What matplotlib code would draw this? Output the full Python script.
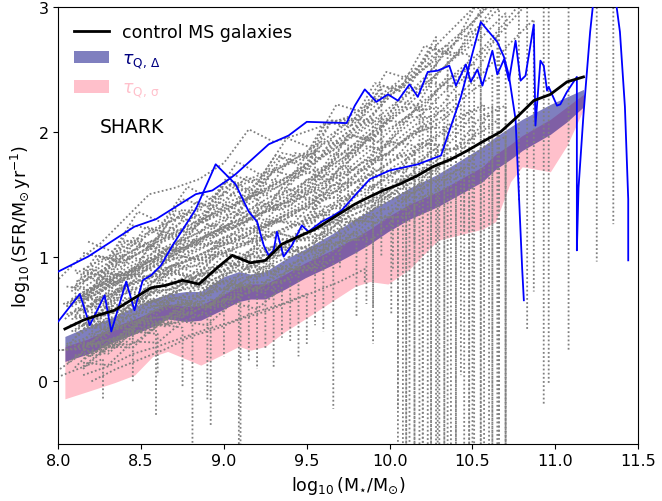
import numpy as np
import matplotlib
matplotlib.use('Agg')
import matplotlib.pyplot as plt

# control main-sequence median
ms_x = [8.04, 8.15, 8.24, 8.34, 8.45, 8.56, 8.65, 8.75, 8.85, 8.95, 9.05, 9.16, 9.25, 9.35, 9.45,
        9.55, 9.67, 9.79, 9.88, 9.96, 10.06, 10.17, 10.26, 10.37, 10.47, 10.56, 10.67, 10.77,
        10.87, 10.97, 11.07, 11.17]
ms_y = [0.42, 0.49, 0.53, 0.57, 0.66, 0.75, 0.77, 0.81, 0.78, 0.90, 1.01, 0.95, 0.97, 1.10, 1.16,
        1.22, 1.32, 1.42, 1.48, 1.53, 1.58, 1.65, 1.72, 1.78, 1.85, 1.92, 2.00, 2.12,
        2.25, 2.30, 2.40, 2.44]

# quenching-timescale bands
band_x = [8.04, 8.18, 8.34, 8.46, 8.57, 8.66, 8.77, 8.86, 9.00, 9.09, 9.16, 9.25, 9.37, 9.49,
          9.65, 9.79, 9.88, 9.99, 10.12, 10.29, 10.56, 10.64, 10.73, 10.80, 10.97, 11.07, 11.17]
delta_lo = [0.16, 0.22, 0.32, 0.38, 0.44, 0.50, 0.48, 0.49, 0.58, 0.64, 0.66, 0.66, 0.74, 0.83,
            0.93, 1.03, 1.10, 1.20, 1.30, 1.40, 1.60, 1.70, 1.78, 1.85, 1.98, 2.08, 2.20]
delta_hi = [0.36, 0.44, 0.52, 0.60, 0.66, 0.70, 0.72, 0.72, 0.84, 0.88, 0.86, 0.88, 0.98, 1.06,
            1.18, 1.30, 1.37, 1.45, 1.55, 1.66, 1.88, 1.96, 2.04, 2.10, 2.22, 2.28, 2.34]
sigma_lo = [-0.14, -0.08, -0.01, 0.05, 0.20, 0.24, 0.18, 0.13, 0.22, 0.28, 0.25, 0.28, 0.40, 0.50,
            0.64, 0.76, 0.80, 0.78, 0.90, 1.13, 1.22, 1.28, 1.60, 1.72, 1.68, 1.89, 2.18]
sigma_hi = [0.28, 0.34, 0.44, 0.50, 0.56, 0.62, 0.60, 0.61, 0.70, 0.76, 0.78, 0.78, 0.86, 0.95,
            1.05, 1.15, 1.22, 1.32, 1.42, 1.52, 1.72, 1.82, 1.90, 1.97, 2.10, 2.20, 2.30]

# two highlighted galaxies
gal1_x = [8.00, 8.18, 8.46, 8.59, 8.83, 8.93, 9.03, 9.07, 9.27, 9.39, 9.50, 9.74, 9.79, 9.85,
          9.92, 9.99, 10.05, 10.12, 10.17, 10.23, 10.29, 10.36, 10.40, 10.46, 10.49, 10.53,
          10.56, 10.62, 10.65, 10.69, 10.72, 10.76, 10.79, 10.82, 10.87, 10.88, 10.91, 10.93,
          10.95, 10.96, 11.01, 11.03, 11.07, 11.13, 11.13, 11.14, 11.17, 11.21, 11.25, 11.31,
          11.37, 11.39, 11.42, 11.44, 11.44]
gal1_y = [0.88, 1.00, 1.24, 1.30, 1.50, 1.53, 1.62, 1.66, 1.90, 1.97, 2.08, 2.07, 2.21, 2.34,
          2.24, 2.30, 2.25, 2.38, 2.28, 2.48, 2.49, 2.53, 2.37, 2.54, 2.40, 2.50,
          2.37, 2.65, 2.46, 2.58, 2.41, 2.73, 2.41, 2.45, 2.86, 2.05, 2.57, 2.53,
          2.33, 2.36, 2.21, 2.22, 2.32, 2.44, 1.05, 1.55, 2.14, 2.80, 3.30, 3.60,
          3.00, 2.80, 2.20, 1.46, 0.97]
gal2_x = [8.00, 8.13, 8.19, 8.28, 8.32, 8.41, 8.46, 8.51, 8.56, 8.62, 8.69, 8.83, 8.91, 8.95,
          9.07, 9.15, 9.20, 9.24, 9.27, 9.30, 9.32, 9.36, 9.41, 9.47, 9.51, 9.59, 9.65, 9.71,
          9.79, 9.88, 10.00, 10.17, 10.31, 10.43, 10.55, 10.65, 10.69, 10.72, 10.76, 10.78,
          10.80, 10.81]
gal2_y = [0.48, 0.70, 0.45, 0.69, 0.40, 0.80, 0.57, 0.81, 0.85, 0.93, 1.09, 1.38, 1.62, 1.74,
          1.58, 1.36, 1.28, 1.09, 1.01, 1.05, 1.20, 1.00, 1.09, 1.25, 1.20, 1.28, 1.32, 1.37,
          1.49, 1.62, 1.69, 1.74, 1.81, 2.28, 2.88, 2.72, 2.60, 2.45, 2.10, 1.50,
          0.90, 0.65]

# individual SHARK tracks: (final log M*, log SFR sampled every STEP dex, SFR after quenching)
STEP = 0.15
tracks = [
    (8.27, [0.02, 0.10, 0.18], -0.14),
    (8.59, [0.08, 0.22, 0.26, 0.40, 0.42], -0.28),
    (8.81, [0.15, 0.30, 0.35, 0.50, 0.52, 0.60], -0.60),
    (8.90, [0.12, 0.28, 0.30, 0.45, 0.48, 0.55], -0.16),
    (8.92, [0.25, 0.28, 0.42, 0.48, 0.60, 0.62, 0.72], -0.35),
    (9.10, [0.30, 0.36, 0.50, 0.55, 0.66, 0.68, 0.78, 0.82], -0.60),
    (9.09, [0.20, 0.35, 0.40, 0.50, 0.55, 0.62, 0.70], -0.60),
    (9.40, [0.22, 0.33, 0.40, 0.50, 0.55, 0.64, 0.68, 0.78, 0.82], 0.32),
    (9.66, [0.18, 0.32, 0.38, 0.48, 0.52, 0.62, 0.66, 0.76, 0.80, 0.90, 0.98], -0.22),
    (9.80, [0.28, 0.40, 0.46, 0.58, 0.62, 0.72, 0.75, 0.86, 0.90, 1.00, 1.08, 1.20], 0.52),
    (9.86, [0.30, 0.36, 0.50, 0.52, 0.63, 0.66, 0.78, 0.80, 0.90, 0.94, 1.10, 1.18], 0.62),
    (10.01, [0.36, 0.42, 0.55, 0.58, 0.68, 0.72, 0.83, 0.85, 0.95, 1.00, 1.12, 1.22, 1.36], 0.53),
    (10.05, [0.40, 0.55, 0.58, 0.72, 0.74, 0.86, 0.88, 1.00, 1.02, 1.13, 1.18, 1.32, 1.40, 1.55], -0.22),
    (10.08, [0.58, 0.64, 0.78, 0.84, 0.90, 1.00, 1.04, 1.14, 1.18, 1.28, 1.36, 1.50, 1.58, 1.72], -0.70),
    (10.12, [0.45, 0.58, 0.62, 0.76, 0.80, 0.90, 0.95, 1.05, 1.10, 1.20, 1.28, 1.42, 1.50, 1.66], -0.70),
    (10.15, [0.60, 0.75, 0.80, 0.95, 0.98, 1.08, 1.12, 1.22, 1.24, 1.36, 1.40, 1.55, 1.62, 1.76, 1.84], -0.70),
    (10.20, [0.35, 0.48, 0.55, 0.62, 0.72, 0.76, 0.86, 0.90, 1.00, 1.05, 1.16, 1.24, 1.38, 1.48, 1.60], -0.70),
    (10.23, [0.70, 0.80, 0.92, 1.00, 1.10, 1.16, 1.26, 1.32, 1.42, 1.48, 1.60, 1.70, 1.86, 1.92, 2.05], -0.70),
    (10.29, [0.50, 0.66, 0.70, 0.84, 0.86, 0.98, 1.00, 1.10, 1.14, 1.24, 1.28, 1.44, 1.50, 1.66, 1.72, 1.88], -0.70),
    (10.33, [0.65, 0.72, 0.85, 0.92, 1.04, 1.10, 1.22, 1.28, 1.40, 1.45, 1.58, 1.68, 1.85, 1.92, 2.08, 2.18], -0.70),
    (10.37, [0.42, 0.58, 0.64, 0.75, 0.80, 0.90, 0.94, 1.06, 1.08, 1.18, 1.25, 1.38, 1.45, 1.60, 1.68, 1.80], -0.70),
    (10.43, [0.62, 0.70, 0.85, 0.90, 1.04, 1.08, 1.20, 1.24, 1.35, 1.40, 1.52, 1.58, 1.75, 1.82, 1.98, 2.05, 2.22], 0.05),
    (10.48, [0.40, 0.52, 0.56, 0.70, 0.74, 0.84, 0.88, 0.98, 1.02, 1.12, 1.18, 1.30, 1.40, 1.52, 1.62, 1.75, 1.86], -0.70),
    (10.51, [0.80, 0.92, 1.02, 1.12, 1.20, 1.30, 1.38, 1.48, 1.55, 1.65, 1.72, 1.88, 2.00, 2.15, 2.25, 2.42, 2.55], -0.70),
    (10.57, [0.65, 0.78, 0.84, 0.96, 1.00, 1.10, 1.15, 1.25, 1.30, 1.42, 1.48, 1.62, 1.72, 1.86, 1.96, 2.12, 2.22], -0.50),
    (10.62, [0.55, 0.60, 0.75, 0.80, 0.92, 0.98, 1.10, 1.15, 1.28, 1.35, 1.48, 1.58, 1.75, 1.85, 2.02, 2.12, 2.30, 2.45], -0.70),
    (10.66, [0.38, 0.52, 0.58, 0.70, 0.75, 0.86, 0.90, 1.02, 1.06, 1.16, 1.24, 1.36, 1.46, 1.60, 1.70, 1.84, 1.96, 2.10], -0.45),
    (10.70, [0.80, 0.92, 1.00, 1.12, 1.20, 1.30, 1.40, 1.52, 1.60, 1.74, 1.84, 2.00, 2.14, 2.30, 2.42, 2.60, 2.75, 2.95], -0.55),
    (10.40, [0.55, 0.62, 0.74, 0.82, 0.90, 0.96, 1.06, 1.12, 1.22, 1.30, 1.42, 1.54, 1.66, 1.78, 1.92, 2.06], 1.55),
    (10.55, [0.90, 1.00, 1.12, 1.24, 1.32, 1.42, 1.55, 1.62, 1.72, 1.84, 1.98, 2.12, 2.28, 2.40, 2.55, 2.72, 2.85], 1.80),
    (10.45, [0.38, 0.45, 0.58, 0.62, 0.72, 0.78, 0.85, 0.92, 1.00, 1.06, 1.18, 1.30, 1.40, 1.52, 1.62, 1.72], 1.20),
    (10.25, [0.80, 0.92, 1.05, 1.15, 1.28, 1.36, 1.50, 1.58, 1.72, 1.80, 1.95, 2.08, 2.25, 2.38, 2.55], 1.40),
    (9.95, [0.75, 0.88, 1.00, 1.12, 1.22, 1.32, 1.42, 1.50, 1.62, 1.70, 1.85, 1.98, 2.12], 1.00),
    (9.70, [0.60, 0.70, 0.80, 0.88, 0.95, 1.04, 1.12, 1.20, 1.28, 1.38, 1.50, 1.65], 0.90),
    (10.10, [0.42, 0.48, 0.60, 0.65, 0.74, 0.80, 0.88, 0.94, 1.02, 1.08, 1.20, 1.30, 1.42, 1.58], -0.70),
    (10.18, [0.66, 0.78, 0.92, 1.00, 1.10, 1.18, 1.28, 1.36, 1.48, 1.55, 1.68, 1.80, 1.95, 2.05, 2.20], -0.70),
    (10.78, [0.75, 0.85, 0.96, 1.05, 1.15, 1.25, 1.34, 1.45, 1.55, 1.68, 1.80, 1.98, 2.12, 2.32, 2.48, 2.68, 2.85, 3.05, 3.20], 1.44),
    (10.83, [0.68, 0.80, 0.88, 0.98, 1.05, 1.15, 1.22, 1.32, 1.40, 1.52, 1.62, 1.80, 1.92, 2.10, 2.25, 2.45, 2.62, 2.85, 3.10], 0.42),
    (10.87, [0.60, 0.72, 0.80, 0.90, 0.96, 1.06, 1.12, 1.22, 1.30, 1.42, 1.52, 1.68, 1.80, 1.98, 2.12, 2.30, 2.48, 2.70, 2.90], 0.72),
    (10.93, [0.62, 0.70, 0.82, 0.92, 1.02, 1.12, 1.22, 1.32, 1.42, 1.52, 1.66, 1.80, 1.98, 2.14, 2.34, 2.52, 2.72, 2.95, 3.15, 3.30], -0.18),
    (10.96, [0.55, 0.66, 0.76, 0.85, 0.94, 1.02, 1.10, 1.20, 1.28, 1.40, 1.52, 1.68, 1.82, 2.00, 2.16, 2.36, 2.56, 2.78, 3.00, 3.20], -0.03),
    (11.08, [0.60, 0.70, 0.80, 0.90, 1.00, 1.10, 1.18, 1.28, 1.38, 1.50, 1.62, 1.78, 1.94, 2.12, 2.30, 2.52, 2.75, 3.00, 3.20, 3.35, 3.40], 0.24),
    (11.25, [0.66, 0.76, 0.86, 0.96, 1.06, 1.14, 1.24, 1.34, 1.46, 1.56, 1.70, 1.86, 2.04, 2.22, 2.42, 2.65, 2.88, 3.10, 3.30, 3.40, 3.45, 3.40], 0.96),
    (11.35, [0.62, 0.72, 0.84, 0.94, 1.06, 1.16, 1.28, 1.38, 1.50, 1.62, 1.76, 1.92, 2.08, 2.28, 2.48, 2.72, 2.92, 3.12, 3.30, 3.45, 3.50, 3.50, 3.45], 1.26),
    (10.35, [0.75, 0.95, 1.10, 1.30, 1.50, 1.55, 1.62, 1.75, 2.02, 1.92, 1.98, 2.05, 2.12, 2.25, 2.40, 2.55, 2.70], -0.70),
    (9.90, [0.70, 0.95, 1.05, 1.18, 1.30, 1.40, 1.55, 1.62, 1.70, 1.80, 1.85, 2.00, 2.10], 0.60),
    (9.20, [0.55, 0.72, 0.88, 1.00, 1.15, 1.32, 1.45, 1.52], 0.10),
    (9.50, [0.05, 0.12, 0.22, 0.28, 0.35, 0.42, 0.48, 0.56, 0.62, 0.70], 0.30),
    (9.85, [0.00, 0.10, 0.18, 0.26, 0.36, 0.42, 0.50, 0.56, 0.64, 0.72, 0.80, 0.90], 0.78),
    (10.40, [0.68, 0.63, 0.92, 0.88, 1.14, 1.09, 1.36, 1.28, 1.55, 1.51, 1.82, 1.83, 2.10, 2.07, 2.39, 2.36], -0.70),
    (10.55, [0.90, 0.82, 1.15, 1.07, 1.38, 1.29, 1.61, 1.49, 1.80, 1.73, 2.09, 2.05, 2.37, 2.31, 2.67, 2.60, 2.98], -0.70),
    (10.25, [0.63, 0.87, 0.84, 1.08, 1.03, 1.26, 1.22, 1.42, 1.37, 1.62, 1.62, 1.90, 1.86, 2.12, 2.12], -0.70),
    (10.10, [0.61, 0.59, 0.81, 0.80, 1.00, 0.97, 1.18, 1.13, 1.33, 1.32, 1.57, 1.60, 1.82, 1.81], -0.70),
    (9.95, [1.03, 0.98, 1.25, 1.21, 1.46, 1.40, 1.66, 1.58, 1.83, 1.79, 2.09, 2.09, 2.35], 1.20),
    (10.62, [0.45, 0.45, 0.67, 0.66, 0.87, 0.83, 1.04, 0.99, 1.20, 1.16, 1.40, 1.41, 1.66, 1.64, 1.90, 1.89, 2.15, 2.20], -0.70),
    (10.66, [0.87, 0.80, 1.13, 1.06, 1.37, 1.29, 1.60, 1.51, 1.81, 1.73, 2.08, 2.04, 2.39, 2.33, 2.69, 2.63, 2.99, 3.00], -0.70),
    (10.20, [0.51, 0.84, 0.76, 1.09, 0.99, 1.29, 1.19, 1.49, 1.39, 1.70, 1.63, 1.98, 1.93, 2.25, 2.20], -0.70),
    (10.33, [0.50, 0.52, 0.73, 0.74, 0.93, 0.92, 1.11, 1.10, 1.28, 1.28, 1.49, 1.54, 1.77, 1.78, 2.01, 2.04], -0.70),
    (10.48, [0.72, 1.01, 0.97, 1.24, 1.18, 1.44, 1.38, 1.64, 1.57, 1.83, 1.79, 2.11, 2.09, 2.37, 2.34, 2.64, 2.62], -0.70),
    (10.70, [0.45, 0.44, 0.64, 0.65, 0.83, 0.81, 1.00, 0.96, 1.14, 1.15, 1.38, 1.42, 1.61, 1.62, 1.85, 1.87, 2.12, 2.21], -0.70),
    (9.55, [0.76, 0.73, 1.01, 0.98, 1.24, 1.18, 1.44, 1.37, 1.63, 1.57, 1.85], 0.90),
    (9.30, [0.32, 0.30, 0.51, 0.48, 0.67, 0.62, 0.81, 0.76, 0.94], 0.10),
    (9.60, [0.58, 0.54, 0.77, 0.72, 0.93, 0.86, 1.07, 1.00, 1.20, 1.14, 1.38], 0.40),
    (10.02, [0.29, 0.29, 0.48, 0.48, 0.65, 0.62, 0.79, 0.75, 0.92, 0.89, 1.09, 1.11, 1.32, 1.31], 0.90),
    (10.28, [1.12, 1.04, 1.36, 1.27, 1.56, 1.46, 1.76, 1.65, 1.95, 1.87, 2.22, 2.16, 2.48, 2.42, 2.76], -0.70),
    (10.45, [0.62, 0.85, 0.86, 1.07, 1.04, 1.26, 1.22, 1.43, 1.40, 1.64, 1.67, 1.93, 1.92, 2.17, 2.19, 2.44], -0.70),
    (10.60, [0.43, 0.43, 0.64, 0.63, 0.81, 0.79, 0.96, 0.95, 1.13, 1.13, 1.37, 1.40, 1.60, 1.62, 1.85, 1.87, 2.14], -0.70),
    (10.15, [0.90, 0.85, 1.09, 1.02, 1.23, 1.16, 1.36, 1.29, 1.50, 1.45, 1.72, 1.69, 1.92, 1.89], 1.10),
    (9.75, [0.89, 0.85, 1.13, 1.08, 1.33, 1.26, 1.52, 1.45, 1.69, 1.63, 1.92, 1.90], 1.30),
    (8.75, [0.10, 0.28, 0.27, 0.46, 0.43], -0.05),
    (9.00, [0.21, 0.21, 0.40, 0.39, 0.56, 0.53, 0.70], 0.20),
    (9.25, [0.28, 0.27, 0.47, 0.44, 0.61, 0.58, 0.74, 0.71], 0.25),
    (9.55, [0.30, 0.29, 0.49, 0.46, 0.63, 0.60, 0.76, 0.73, 0.90, 0.89], 0.45),
    (9.35, [0.15, 0.13, 0.32, 0.31, 0.48, 0.45, 0.63, 0.58, 0.75], 0.35),
    (8.60, [0.25, 0.22, 0.40, 0.38], 0.05),
    (10.40, [0.30, 0.28, 0.47, 0.46, 0.63, 0.60, 0.78, 0.73, 0.90, 0.89, 1.11, 1.14, 1.32, 1.32, 1.54, 1.54], -0.70),
    (10.55, [0.25, 0.43, 0.42, 0.61, 0.58, 0.75, 0.73, 0.88, 0.85, 1.04, 1.06, 1.29, 1.27, 1.47, 1.49, 1.69, 1.73], -0.70),
    (10.25, [0.46, 0.42, 0.63, 0.60, 0.79, 0.74, 0.94, 0.87, 1.06, 1.03, 1.27, 1.28, 1.48, 1.46, 1.70], -0.70),
    (10.05, [0.11, 0.31, 0.30, 0.49, 0.46, 0.63, 0.60, 0.77, 0.73, 0.91, 0.91, 1.13, 1.14, 1.33], -0.70),
    (9.90, [0.25, 0.47, 0.44, 0.65, 0.60, 0.79, 0.74, 0.93, 0.87, 1.07, 1.05, 1.29, 1.28], 0.30),
    (10.70, [0.25, 0.24, 0.44, 0.44, 0.62, 0.59, 0.78, 0.74, 0.92, 0.92, 1.15, 1.19, 1.38, 1.38, 1.61, 1.62, 1.87, 1.96], -0.70),
    (9.45, [0.47, 0.45, 0.66, 0.63, 0.82, 0.77, 0.96, 0.91, 1.09, 1.05], 0.20),
    (9.15, [0.52, 0.50, 0.71, 0.68, 0.87, 0.82, 1.01, 0.96], 0.15),
    (8.45, [0.25, 0.26, 0.43, 0.42], 0.00),
    (10.15, [0.54, 0.52, 0.73, 0.71, 0.90, 0.85, 1.04, 0.98, 1.17, 1.12, 1.33, 1.34, 1.57, 1.54, 1.77], -0.70),
    (10.30, [0.28, 0.48, 0.47, 0.67, 0.64, 0.81, 0.78, 0.94, 0.91, 1.08, 1.07, 1.30, 1.31, 1.50, 1.51, 1.72], -0.70),
    (10.50, [0.67, 0.65, 0.86, 0.83, 1.02, 0.97, 1.16, 1.11, 1.29, 1.25, 1.47, 1.47, 1.70, 1.67, 1.91, 1.89, 2.13], -0.70),
    (10.65, [0.73, 1.00, 0.95, 1.21, 1.14, 1.38, 1.31, 1.55, 1.47, 1.72, 1.68, 1.97, 1.94, 2.20, 2.18, 2.45, 2.43, 2.77], -0.70),
]

fig, ax = plt.subplots(figsize=(6.62, 5.02), dpi=100)
fig.subplots_adjust(left=0.088, right=0.964, top=0.984, bottom=0.114)

ax.fill_between(band_x, sigma_lo, sigma_hi, color='pink', lw=0, zorder=1, label=r'$\tau_{\rm Q,\,\sigma}$')
ax.fill_between(band_x, delta_lo, delta_hi, color='navy', alpha=0.5, lw=0, zorder=1.5,
                label=r'$\tau_{\rm Q,\,\Delta}$')

for x_end, ys, drop in tracks:
    n = len(ys)
    xs = [x_end - STEP * (n - 1 - i) for i in range(n)]
    yy = list(ys)
    if drop is not None:
        xs.append(x_end)
        yy.append(drop)
    ax.plot(xs, yy, color='gray', ls=(0, (1, 1.3)), lw=1.3, zorder=2)

ax.plot(gal1_x, gal1_y, color='blue', lw=1.3, zorder=3)
ax.plot(gal2_x, gal2_y, color='blue', lw=1.3, zorder=3)
ax.plot(ms_x, ms_y, color='black', lw=2, zorder=4, label='control MS galaxies')

ax.set_xlim(8.0, 11.5)
ax.set_ylim(-0.5, 3.0)
ax.set_xticks([8.0, 8.5, 9.0, 9.5, 10.0, 10.5, 11.0, 11.5])
ax.set_yticks([0, 1, 2, 3])
ax.tick_params(labelsize=11.5)
ax.set_xlabel(r'$\log_{10}({\rm M_{\star}/M_{\odot}})$', fontsize=12.5)
ax.set_ylabel(r'$\log_{10}({\rm SFR/M_{\odot}\,yr^{-1}})$', fontsize=12.5)

ax.text(8.25, 2.04, 'SHARK', fontsize=13.5, va='center', ha='left')

h, l = ax.get_legend_handles_labels()
order = [2, 1, 0]
ax.legend([h[i] for i in order], [l[i] for i in order], loc='upper left', frameon=False,
          fontsize=12.5, labelcolor=['black', 'navy', 'pink'])

plt.savefig('out.png', dpi=100)
